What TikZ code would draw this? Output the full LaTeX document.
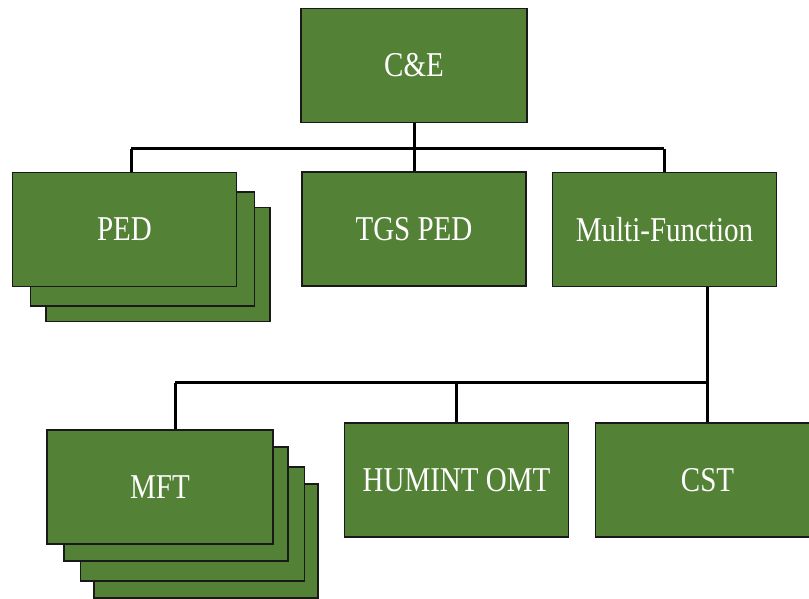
\documentclass[tikz,border=0pt]{standalone}
\usepackage{fontspec}
\setmainfont{Liberation Serif}
\definecolor{unitgreen}{RGB}{83,129,53}
\definecolor{edge}{RGB}{25,25,25}
% unit labels are set a little taller than the font's natural shape
\newcommand\tallname[1]{\scalebox{1}[1.2]{#1}}
\tikzset{
  unit/.style={draw=edge, line width=1.6pt, fill=unitgreen, text=white,
    minimum width=224pt, minimum height=114pt, inner sep=0pt,
    font=\fontsize{29}{34}\selectfont},
  link/.style={draw=black, line width=3pt},
}
\begin{document}
\begin{tikzpicture}[x=1pt, y=-1pt]
  \useasboundingbox (0,0) rectangle (809,598);
  \clip (0,0) rectangle (809,598);

  % top level
  \node[unit, minimum width=226pt] (ce) at (414,65.5) {\tallname{C\&E}};

  % PED stack (back to front)
  \node[unit] (ped3) at (157.8,264.5) {};
  \node[unit] (ped2) at (142.3,249) {};
  \node[unit] (ped) at (124.5,229.5) {\tallname{PED}};

  \node[unit] (tgs) at (414,229.2) {\tallname{TGS PED}};
  \node[unit] (mf) at (664.5,229.5) {\tallname{Multi-Function}};

  % MFT stack (back to front)
  \node[unit] (mft4) at (206.2,541) {};
  \node[unit] (mft3) at (192.5,524) {};
  \node[unit] (mft2) at (176.2,504.2) {};
  \node[unit, minimum width=226pt] (mft) at (160,486.7) {\tallname{MFT}};

  \node[unit] (humint) at (456.5,480) {\tallname{HUMINT OMT}};
  \node[unit] (cst) at (707.5,480) {\tallname{CST}};

  % first bus
  \coordinate (b1) at (131,148.5);
  \coordinate (b2) at (664,148.5);
  \draw[link] (b1) -- (b2);
  \draw[link] (ce.south) -- (tgs.north);
  \draw[link] (b1) -- (b1 |- ped.north);
  \draw[link] (b2) -- (b2 |- mf.north);

  % second bus
  \coordinate (b3) at (175,382.7);
  \coordinate (b4) at (707.5,382.7);
  \draw[link] (b3) -- (b4);
  \draw[link] (cst.north |- mf.south) -- (cst.north);
  \draw[link] (b3) -- (b3 |- mft.north);
  \draw[link] (humint.north) -- (humint.north |- b3);
\end{tikzpicture}
\end{document}
